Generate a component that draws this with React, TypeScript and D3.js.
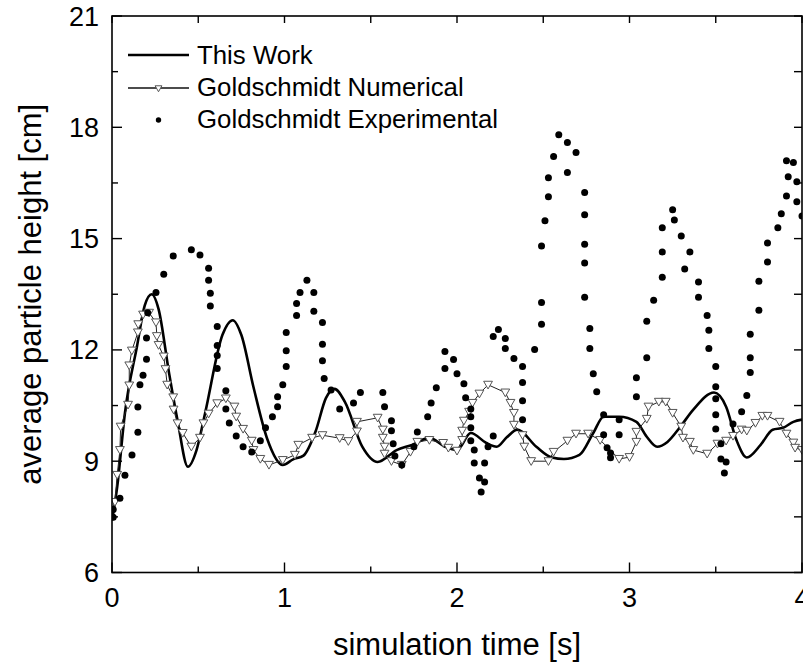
import React from "react";
import * as d3 from "d3";

// ---- data ----
const thisWorkT = [0.0, 0.03, 0.075, 0.145, 0.19, 0.23, 0.27, 0.33, 0.38, 0.44, 0.49, 0.54, 0.64, 0.7, 0.75, 0.82, 0.9, 0.99, 1.05, 1.11, 1.18, 1.24, 1.29, 1.35, 1.45, 1.54, 1.65, 1.74, 1.84, 1.93, 2.0, 2.08, 2.17, 2.23, 2.29, 2.35, 2.46, 2.55, 2.62, 2.71, 2.79, 2.85, 2.94, 3.04, 3.1, 3.16, 3.22, 3.29, 3.37, 3.49, 3.56, 3.62, 3.68, 3.76, 3.83, 3.89, 3.95, 4.0];
const thisWorkH = [7.4, 8.3, 10.3, 12.1, 13.2, 13.5, 13.1, 11.4, 10.1, 8.85, 9.3, 10.3, 12.4, 12.8, 12.4, 11.0, 9.6, 8.9, 9.05, 9.15, 9.8, 10.7, 10.95, 10.6, 9.4, 8.98, 9.3, 9.44, 9.63, 9.39, 9.3, 9.76, 9.49, 9.39, 9.65, 9.85, 9.39, 9.1, 9.06, 9.17, 9.76, 10.2, 10.2, 10.06, 9.66, 9.39, 9.52, 9.9, 10.39, 10.85, 10.47, 9.57, 9.1, 9.44, 9.85, 9.9, 10.06, 10.12];

const numT = [0.017, 0.03, 0.046, 0.05, 0.093, 0.1, 0.1, 0.115, 0.15, 0.152, 0.18, 0.215, 0.255, 0.26, 0.27, 0.3, 0.31, 0.32, 0.355, 0.357, 0.38, 0.41, 0.46, 0.51, 0.53, 0.56, 0.61, 0.66, 0.71, 0.72, 0.76, 0.81, 0.82, 0.86, 0.91, 0.99, 1.06, 1.08, 1.16, 1.22, 1.32, 1.37, 1.42, 1.42, 1.54, 1.57, 1.57, 1.58, 1.58, 1.62, 1.68, 1.73, 1.77, 1.84, 1.92, 1.95, 2.0, 2.03, 2.03, 2.04, 2.07, 2.09, 2.13, 2.18, 2.28, 2.31, 2.33, 2.33, 2.38, 2.39, 2.43, 2.53, 2.56, 2.64, 2.69, 2.76, 2.83, 2.94, 3.0, 3.04, 3.04, 3.1, 3.11, 3.17, 3.21, 3.25, 3.3, 3.31, 3.35, 3.37, 3.45, 3.51, 3.56, 3.6, 3.65, 3.68, 3.73, 3.77, 3.8, 3.87, 3.91, 3.95, 3.96, 4.0];
const numH = [7.9, 8.63, 9.3, 9.93, 10.52, 11.04, 11.58, 11.98, 12.47, 12.69, 12.95, 13.0, 12.74, 12.37, 12.13, 11.82, 11.48, 11.06, 10.72, 10.39, 10.02, 9.76, 9.39, 9.63, 10.02, 10.28, 10.56, 10.69, 10.47, 10.2, 9.87, 9.55, 9.3, 9.06, 8.9, 9.03, 9.17, 9.44, 9.63, 9.7, 9.62, 9.54, 9.8, 10.06, 10.17, 9.85, 9.63, 9.39, 9.2, 9.0, 8.9, 9.25, 9.52, 9.57, 9.49, 9.36, 9.28, 9.57, 9.82, 10.09, 10.33, 10.57, 10.82, 11.06, 10.85, 10.57, 10.3, 9.98, 9.7, 9.39, 9.0, 9.0, 9.25, 9.55, 9.74, 9.74, 9.57, 9.06, 9.11, 9.52, 9.79, 10.14, 10.47, 10.6, 10.6, 10.3, 9.93, 9.63, 9.52, 9.3, 9.2, 9.47, 9.55, 9.68, 9.85, 9.82, 10.03, 10.22, 10.22, 10.06, 9.74, 9.5, 9.36, 9.3];

const expT = [0.007, 0.007, 0.046, 0.075, 0.116, 0.15, 0.15, 0.162, 0.18, 0.2, 0.2, 0.207, 0.255, 0.3, 0.355, 0.46, 0.51, 0.56, 0.56, 0.57, 0.57, 0.61, 0.61, 0.61, 0.61, 0.66, 0.66, 0.68, 0.72, 0.76, 0.81, 0.86, 0.89, 0.93, 0.96, 0.96, 0.99, 1.01, 1.01, 1.01, 1.07, 1.07, 1.09, 1.13, 1.17, 1.17, 1.22, 1.22, 1.22, 1.23, 1.27, 1.32, 1.4, 1.44, 1.57, 1.58, 1.62, 1.62, 1.63, 1.64, 1.68, 1.75, 1.77, 1.83, 1.85, 1.88, 1.93, 1.93, 1.98, 2.0, 2.04, 2.05, 2.08, 2.08, 2.08, 2.08, 2.1, 2.1, 2.13, 2.16, 2.14, 2.16, 2.18, 2.21, 2.21, 2.24, 2.28, 2.28, 2.33, 2.38, 2.38, 2.38, 2.38, 2.45, 2.49, 2.49, 2.49, 2.51, 2.53, 2.53, 2.56, 2.59, 2.64, 2.69, 2.64, 2.74, 2.74, 2.74, 2.74, 2.74, 2.77, 2.77, 2.79, 2.81, 2.85, 2.85, 2.87, 2.89, 2.89, 2.94, 2.94, 3.04, 3.04, 3.1, 3.1, 3.14, 3.19, 3.19, 3.19, 3.25, 3.26, 3.3, 3.35, 3.32, 3.4, 3.4, 3.45, 3.46, 3.46, 3.5, 3.5, 3.5, 3.5, 3.5, 3.53, 3.53, 3.56, 3.55, 3.6, 3.65, 3.68, 3.7, 3.7, 3.7, 3.75, 3.75, 3.8, 3.8, 3.86, 3.88, 3.91, 3.92, 3.91, 3.95, 3.97, 3.97, 4.0];
const expH = [7.49, 7.7, 8.0, 8.62, 9.17, 9.78, 10.46, 11.06, 11.32, 11.75, 12.32, 13.0, 13.55, 14.04, 14.53, 14.7, 14.56, 14.2, 13.88, 13.53, 13.18, 12.63, 12.12, 11.85, 11.5, 10.9, 10.41, 10.03, 9.68, 9.39, 9.25, 9.55, 9.9, 10.2, 10.47, 10.74, 11.06, 11.55, 11.98, 12.47, 12.93, 13.25, 13.55, 13.88, 13.55, 13.04, 12.74, 12.15, 11.71, 11.23, 10.92, 10.41, 10.57, 10.85, 10.85, 10.47, 10.09, 9.82, 9.47, 9.14, 8.9, 9.39, 9.79, 10.2, 10.57, 10.98, 11.5, 11.96, 11.74, 11.36, 11.09, 10.71, 10.41, 10.2, 9.9, 9.55, 9.3, 8.95, 8.55, 8.44, 8.17, 8.95, 9.39, 9.68, 12.36, 12.55, 12.31, 12.04, 11.77, 11.55, 11.12, 10.63, 10.12, 12.01, 12.69, 13.28, 14.8, 15.48, 16.13, 16.64, 17.21, 17.8, 17.59, 17.32, 16.78, 16.24, 15.64, 14.85, 14.34, 13.42, 12.58, 12.04, 11.36, 10.87, 10.25, 9.71, 9.36, 9.22, 9.09, 10.12, 9.71, 10.74, 11.25, 11.79, 12.77, 13.34, 13.96, 14.64, 15.29, 15.78, 15.5, 15.07, 14.64, 14.18, 13.83, 13.42, 12.93, 12.53, 12.04, 11.55, 11.01, 10.68, 10.25, 9.87, 9.47, 9.06, 8.98, 8.68, 10.0, 10.33, 10.77, 11.39, 11.79, 12.42, 13.07, 13.85, 14.37, 14.88, 15.29, 15.67, 16.15, 16.67, 17.1, 17.05, 16.53, 15.99, 15.61];

const xMajorTicks = [0, 1, 2, 3, 4];
const xMinorTicks = [0.5, 1.5, 2.5, 3.5];
const yMajorTicks = [6, 9, 12, 15, 18, 21];
const yMinorTicks = [7.5, 10.5, 13.5, 16.5, 19.5];
const legendLabels = ["This Work", "Goldschmidt Numerical", "Goldschmidt Experimental"];
const xTitle = "simulation time [s]";
const yTitle = "average particle height [cm]";

const FONT = "'Liberation Sans', Arial, Helvetica, sans-serif";

export default function App() {
  const W = 803, H = 662;
  const L = 112, R = 802, T = 16, B = 572.5;
  const x = d3.scaleLinear().domain([0, 4]).range([L, R]);
  const y = d3.scaleLinear().domain([6, 21]).range([B, T]);

  const solid = thisWorkT.map((t, i) => [t, thisWorkH[i]] as [number, number]);
  const num = numT.map((t, i) => [t, numH[i]] as [number, number]);
  const exp = expT.map((t, i) => [t, expH[i]] as [number, number]);

  const solidPath = d3.line<[number, number]>().x(d => x(d[0])).y(d => y(d[1])).curve(d3.curveMonotoneX)(solid) || "";
  const numPath = d3.line<[number, number]>().x(d => x(d[0])).y(d => y(d[1]))(num) || "";

  const tri = (cx: number, cy: number, s: number) =>
    `M${cx - s},${cy - s * 0.8}L${cx + s},${cy - s * 0.8}L${cx},${cy + s * 0.95}Z`;

  const axisW = 1.6;
  return (
    <svg width={W} height={H} style={{ position: "absolute", left: 0, top: 0, background: "#fff" }} fontFamily={FONT}>
      <defs>
        <clipPath id="plotclip">
          <rect x={L} y={T} width={R - L} height={B - T} />
        </clipPath>
      </defs>
      <rect x={0} y={0} width={W} height={H} fill="#fff" />
      <g clipPath="url(#plotclip)">
        <path d={solidPath} fill="none" stroke="#000" strokeWidth={2.6} />
        <path d={numPath} fill="none" stroke="#222" strokeWidth={1} />
        {num.map((d, i) => (
          <path key={"n" + i} d={tri(x(d[0]), y(d[1]), 4.4)} fill="#fff" stroke="#555" strokeWidth={1} />
        ))}
        {exp.map((d, i) => (
          <circle key={"e" + i} cx={x(d[0])} cy={y(d[1])} r={3.5} fill="#000" />
        ))}
      </g>
      {/* frame */}
      <rect x={L} y={T} width={R - L} height={B - T} fill="none" stroke="#000" strokeWidth={axisW} />
      {/* ticks */}
      {xMajorTicks.map(t => (
        <g key={"xm" + t}>
          <line x1={x(t)} x2={x(t)} y1={B} y2={B - 10} stroke="#000" strokeWidth={1.4} />
          <line x1={x(t)} x2={x(t)} y1={T} y2={T + 7} stroke="#000" strokeWidth={1.4} />
          <text x={x(t)} y={607} fontSize={27} textAnchor="middle" fill="#000">{t}</text>
        </g>
      ))}
      {xMinorTicks.map(t => (
        <g key={"xn" + t}>
          <line x1={x(t)} x2={x(t)} y1={B} y2={B - 6} stroke="#000" strokeWidth={1.4} />
          <line x1={x(t)} x2={x(t)} y1={T} y2={T + 7} stroke="#000" strokeWidth={1.4} />
        </g>
      ))}
      {yMajorTicks.map(v => (
        <g key={"ym" + v}>
          <line x1={L} x2={L + 10} y1={y(v)} y2={y(v)} stroke="#000" strokeWidth={1.4} />
          <line x1={R} x2={R - 8} y1={y(v)} y2={y(v)} stroke="#000" strokeWidth={1.4} />
          <text x={99} y={y(v) + 9.5} fontSize={27} textAnchor="end" fill="#000">{v}</text>
        </g>
      ))}
      {yMinorTicks.map(v => (
        <g key={"yn" + v}>
          <line x1={L} x2={L + 6} y1={y(v)} y2={y(v)} stroke="#000" strokeWidth={1.4} />
          <line x1={R} x2={R - 8} y1={y(v)} y2={y(v)} stroke="#000" strokeWidth={1.4} />
        </g>
      ))}
      {/* axis titles */}
      <text x={457} y={655} fontSize={31} textAnchor="middle" fill="#000">{xTitle}</text>
      <text transform={`translate(41,${(T + B) / 2}) rotate(-90)`} fontSize={31} textAnchor="middle" fill="#000">{yTitle}</text>
      {/* legend */}
      <line x1={128} x2={189} y1={55} y2={55} stroke="#000" strokeWidth={2.6} />
      <text x={197} y={64} fontSize={25.8} fill="#000">{legendLabels[0]}</text>
      <line x1={128} x2={189} y1={88} y2={88} stroke="#111" strokeWidth={1.4} />
      <path d={tri(158.5, 88.5, 3.4)} fill="#fff" stroke="#555" strokeWidth={1} />
      <text x={197} y={96} fontSize={25.8} fill="#000">{legendLabels[1]}</text>
      <circle cx={158.5} cy={120} r={2.7} fill="#000" />
      <text x={197} y={128} fontSize={25.8} fill="#000">{legendLabels[2]}</text>
    </svg>
  );
}
